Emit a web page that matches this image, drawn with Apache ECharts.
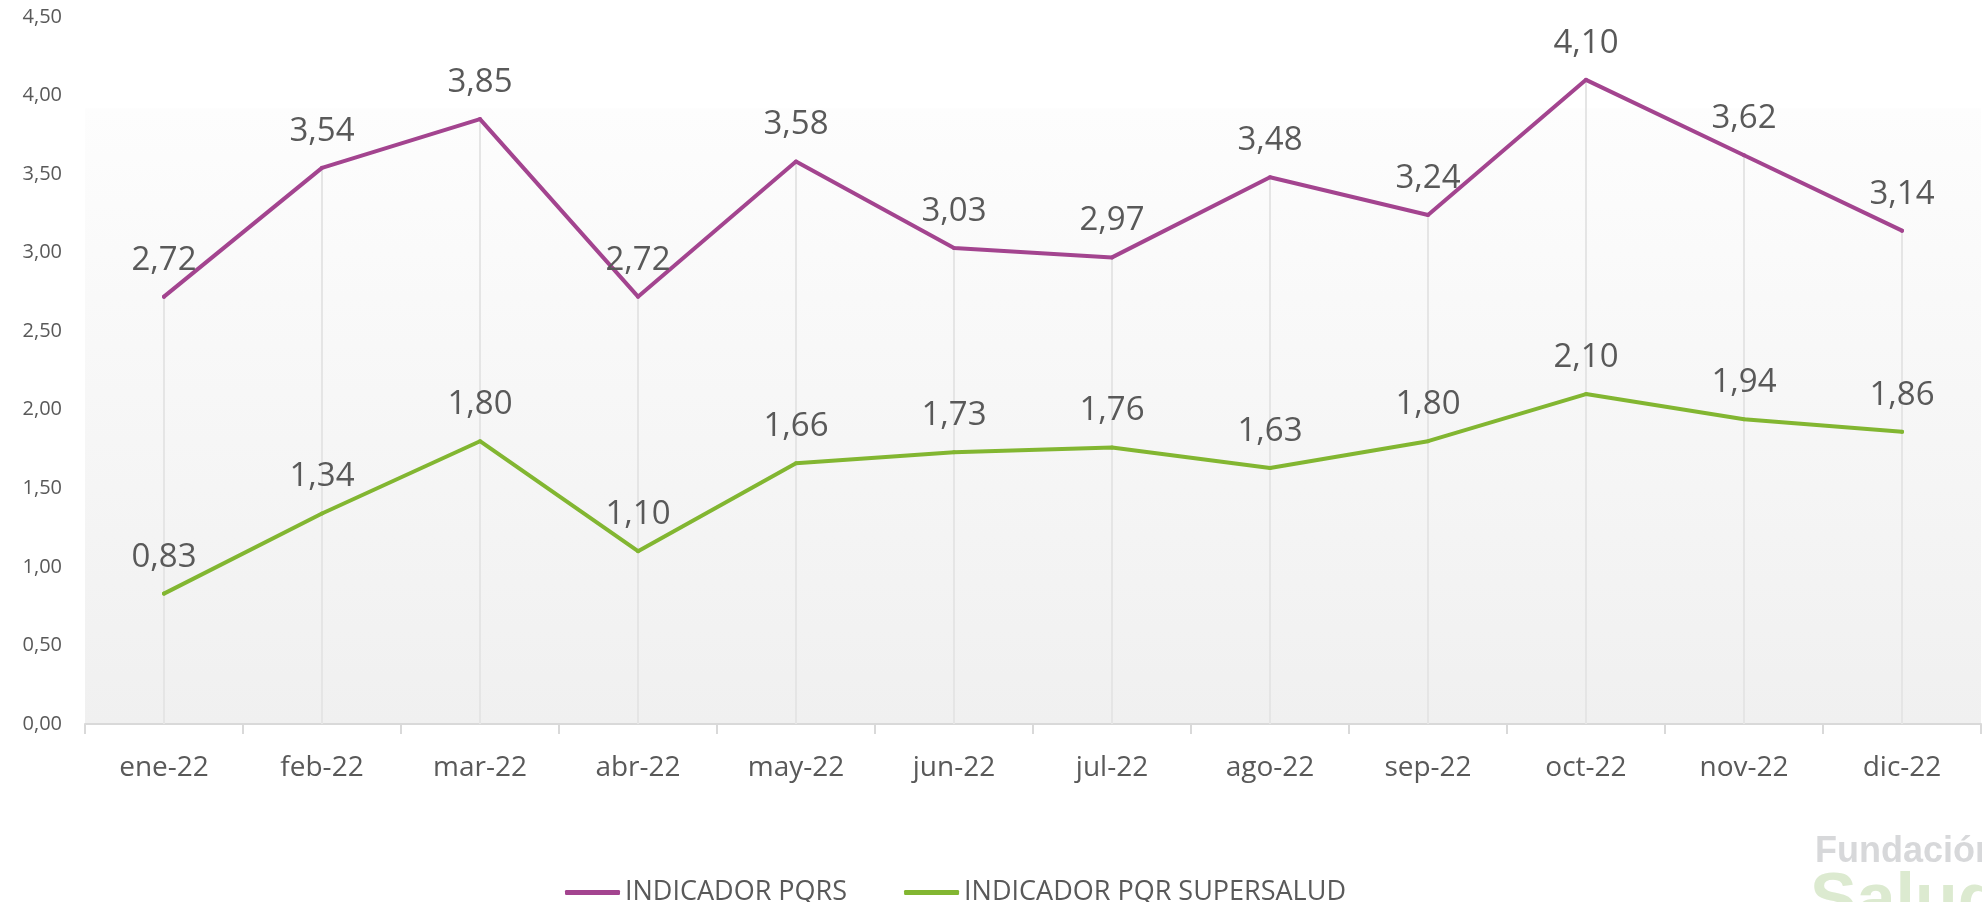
<!DOCTYPE html>
<html>
<head>
<meta charset="utf-8">
<script src="https://cdn.jsdelivr.net/npm/echarts@6/dist/echarts.min.js"></script>
<style>
  html, body { margin: 0; padding: 0; background: #fff; }
  #main { width: 1982px; height: 902px; }
</style>
</head>
<body>
<div id="main"></div>
<script>
// meses
var months = ['ene-22', 'feb-22', 'mar-22', 'abr-22', 'may-22', 'jun-22',
  'jul-22', 'ago-22', 'sep-22', 'oct-22', 'nov-22', 'dic-22']
// INDICADOR PQRS
var pqrs = [2.72, 3.54, 3.85, 2.72, 3.58, 3.03, 2.97, 3.48, 3.24, 4.10, 3.62, 3.14]
// INDICADOR PQR SUPERSALUD
var supersalud = [0.83, 1.34, 1.80, 1.10, 1.66, 1.73, 1.76, 1.63, 1.80, 2.10, 1.94, 1.86]
var yMin = 0, yMax = 4.5, yStep = 0.5

var fmt = function (v) { return Number(v).toFixed(2).replace('.', ',') }
var font = '"Open Sans", "Noto Sans", sans-serif'
var txt = '#595959'

var chart = echarts.init(document.getElementById('main'))

var option = {
  animation: false,
  backgroundColor: '#ffffff',
  grid: {
    left: 85, right: 1, top: 17, bottom: 178,
    show: true,
    borderWidth: 0,
    backgroundColor: {
      type: 'linear', x: 0, y: 0, x2: 0, y2: 1,
      colorStops: [
        { offset: 0, color: '#ffffff' },
        { offset: 0.128, color: '#ffffff' },
        { offset: 0.13, color: '#fdfdfd' },
        { offset: 1, color: '#f0f0f0' }
      ]
    }
  },
  legend: {
    data: ['INDICADOR PQRS', 'INDICADOR PQR SUPERSALUD'],
    left: 560,
    top: 874,
    icon: 'roundRect',
    itemWidth: 55,
    itemHeight: 5,
    itemGap: 57,
    textStyle: { fontFamily: font, fontSize: 27, color: txt }
  },
  xAxis: {
    type: 'category',
    data: months,
    axisLine: { lineStyle: { color: '#d9d9d9', width: 2 } },
    axisTick: { show: true, length: 10, lineStyle: { color: '#d9d9d9', width: 2 } },
    splitLine: { show: false },
    axisLabel: { fontFamily: font, fontSize: 28, color: txt, margin: 30 }
  },
  yAxis: {
    type: 'value',
    min: yMin, max: yMax, interval: yStep,
    axisLine: { show: false },
    axisTick: { show: false },
    splitLine: { show: false },
    axisLabel: { fontFamily: font, fontSize: 20, color: txt, margin: 23, formatter: fmt }
  },
  series: [
    {
      // líneas de proyección
      name: 'drop',
      type: 'bar',
      data: pqrs,
      barWidth: 2,
      silent: true,
      itemStyle: { color: '#e5e5e5' },
      z: 1
    },
    {
      name: 'INDICADOR PQRS',
      type: 'line',
      data: pqrs,
      symbol: 'circle',
      symbolSize: 4,
      itemStyle: { color: '#a3448f' },
      lineStyle: { color: '#a3448f', width: 4, cap: 'round', join: 'round' },
      label: {
        show: true, position: 'top', distance: 18,
        fontFamily: font, fontSize: 33, color: txt,
        formatter: function (p) { return fmt(p.value) }
      },
      z: 3
    },
    {
      name: 'INDICADOR PQR SUPERSALUD',
      type: 'line',
      data: supersalud,
      symbol: 'circle',
      symbolSize: 4,
      itemStyle: { color: '#82b631' },
      lineStyle: { color: '#82b631', width: 4, cap: 'round', join: 'round' },
      label: {
        show: true, position: 'top', distance: 18,
        fontFamily: font, fontSize: 33, color: txt,
        formatter: function (p) { return fmt(p.value) }
      },
      z: 3
    }
  ],
  graphic: [
    {
      type: 'text', left: 1815, top: 834,
      style: { text: 'Fundación', font: 'bold 36px "Liberation Sans", Arial, sans-serif', fill: '#d7d8da' }
    },
    {
      type: 'text', left: 1810, top: 868,
      style: { text: 'Salud', font: 'bold 70px "Liberation Sans", Arial, sans-serif', fill: '#dcead0' }
    }
  ]
}

chart.setOption(option)
</script>
</body>
</html>
